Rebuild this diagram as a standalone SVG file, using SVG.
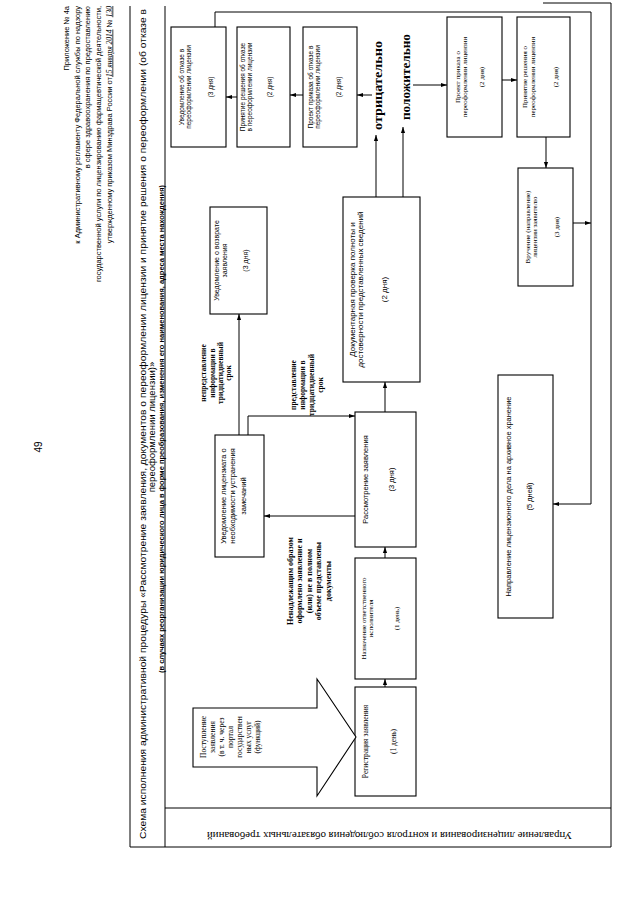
<svg xmlns="http://www.w3.org/2000/svg" width="640" height="905" viewBox="0 0 640 905">
<defs>
<marker id="ah" viewBox="0 0 10 10" refX="10" refY="5" markerWidth="6" markerHeight="6" orient="auto" markerUnits="userSpaceOnUse"><path d="M0,1.5 L10,5 L0,8.5 z" fill="#000"/></marker>
<style>
.box{fill:#fff;stroke:#000;stroke-width:1.1}
.fr{fill:none;stroke:#000;stroke-width:1}
.cn{fill:none;stroke:#000;stroke-width:1;marker-end:url(#ah)}
.s{font-family:"Liberation Sans",Arial,sans-serif;fill:#000}
.r{font-family:"Liberation Serif","Times New Roman",serif;fill:#000}
.b{font-weight:bold}
.m{text-anchor:middle}
</style>
</defs>
<rect width="640" height="905" fill="#fff"/>
<g id="page" transform="matrix(0,-1,1,0,0,905)">
  <g id="header" class="s" font-size="7.5" text-anchor="end">
    <text x="899" y="69">Приложение № 4а</text>
    <text x="899" y="79.5">к Административному регламенту Федеральной службы по надзору</text>
    <text x="899" y="89.5">в сфере здравоохранения по предоставлению</text>
    <text x="899" y="100.5">государственной услуги по лицензированию фармацевтической деятельности,</text>
    <text x="899" y="111.5">утвержденному приказом Минздрава России  от<tspan font-family="Liberation Serif" font-style="italic" text-decoration="underline">15 января 2014</tspan> № <tspan font-family="Liberation Serif" font-style="italic" text-decoration="underline">130</tspan></text>
  </g>
  <text id="page-num" class="s m" x="458" y="41.5" font-size="10">49</text>
  <g id="title" class="s m">
    <text x="481" y="145.5" font-size="9.5" textLength="830" lengthAdjust="spacingAndGlyphs">Схема исполнения административной процедуры «Рассмотрение заявления, документов о переоформлении лицензии и принятие решения о переоформлении (об отказе в</text>
    <text x="478" y="154.5" font-size="9.5">переоформлении лицензии)»</text>
    <text x="476" y="164" font-size="6.5" font-weight="bold" textLength="488" lengthAdjust="spacingAndGlyphs">(в случаях реорганизации юридического лица в форме преобразования, изменения его наименования, адреса места нахождения)</text>
  </g>
  <g id="frame" class="fr">
    <line x1="58" y1="130" x2="899" y2="130"/>
    <line x1="58" y1="165" x2="899" y2="165"/>
    <line x1="58" y1="130" x2="58" y2="611"/>
    <line x1="97" y1="165" x2="97" y2="611"/>
    <line x1="58" y1="611" x2="902" y2="611"/>
    <line x1="902" y1="543" x2="902" y2="611"/>
  </g>

  <g id="n-otkaz-uved">
    <rect class="box" x="758" y="171" width="120" height="55"/>
    <text class="s m" font-size="6.5"><tspan x="818" y="183.5">Уведомление об отказе в</tspan><tspan x="818" y="190.5">переоформлении лицензии</tspan><tspan x="818" y="212.5">(3 дня)</tspan></text>
  </g>
  <g id="n-otkaz-resh">
    <rect class="box" x="758" y="237" width="120" height="53"/>
    <text class="s m" font-size="6.5"><tspan x="818" y="245">Принятие решения об отказе</tspan><tspan x="818" y="251.5">в переоформлении лицензии</tspan><tspan x="818" y="272">(2 дня)</tspan></text>
  </g>
  <g id="n-otkaz-proekt">
    <rect class="box" x="758" y="303" width="120" height="54"/>
    <text class="s m" font-size="6.5"><tspan x="818" y="313">Проект приказа об отказе в</tspan><tspan x="818" y="319.5">переоформлении лицензии</tspan><tspan x="818" y="341">(2 дня)</tspan></text>
  </g>
  <g id="n-proekt">
    <rect class="box" x="768" y="447" width="120" height="55"/>
    <text class="r m" font-size="7"><tspan x="828" y="459.5">Проект приказа о</tspan><tspan x="828" y="466.5">переоформлении лицензии</tspan><tspan x="828" y="483.5">(2 дня)</tspan></text>
  </g>
  <g id="n-resh">
    <rect class="box" x="768" y="517" width="120" height="53"/>
    <text class="r m" font-size="7"><tspan x="828" y="527">Принятие решения о</tspan><tspan x="828" y="535">переоформлении лицензии</tspan><tspan x="828" y="557.5">(2 дня)</tspan></text>
  </g>
  <g id="n-vruch">
    <rect class="box" x="619" y="518" width="118" height="55"/>
    <text class="r m" font-size="7"><tspan x="678" y="529.5">Вручение (направление)</tspan><tspan x="678" y="537">лицензии заявителю</tspan><tspan x="678" y="559">(3 дня)</tspan></text>
  </g>
  <g id="n-vozvrat">
    <rect class="box" x="591" y="210" width="107" height="57"/>
    <text class="s m" font-size="7"><tspan x="644.5" y="219">Уведомление о возврате</tspan><tspan x="644.5" y="226.5">заявления</tspan><tspan x="644.5" y="247.5">(3 дня)</tspan></text>
  </g>
  <g id="n-dok">
    <rect class="box" x="523" y="343" width="185" height="77"/>
    <text class="s m" font-size="8"><tspan x="615.5" y="354.5">Документарная проверка полноты и</tspan><tspan x="615.5" y="362.5">достоверности представленных сведений</tspan><tspan x="615.5" y="387">(2 дня)</tspan></text>
  </g>
  <g id="n-uved-lic">
    <rect class="box" x="348" y="215" width="122" height="49"/>
    <text class="s m" font-size="7.5"><tspan x="409" y="225.5">Уведомление лицензиата о</tspan><tspan x="409" y="234.5">необходимости устранения</tspan><tspan x="409" y="245.5">замечаний</tspan></text>
  </g>
  <g id="n-rassm">
    <rect class="box" x="358" y="355" width="135" height="61"/>
    <text class="s m" font-size="7.5"><tspan x="425.5" y="368">Рассмотрение заявления</tspan><tspan x="425.5" y="394">(3 дня)</tspan></text>
  </g>
  <g id="n-nazn">
    <rect class="box" x="226" y="355" width="121" height="61"/>
    <text class="r m" font-size="7"><tspan x="286.5" y="366">Назначение ответственного</tspan><tspan x="286.5" y="372.5">исполнителя</tspan><tspan x="286.5" y="399">(1 день)</tspan></text>
  </g>
  <g id="n-reg">
    <rect class="box" x="109" y="355" width="109" height="61"/>
    <text class="r m" font-size="7.5"><tspan x="163.5" y="367.5">Регистрация заявления</tspan><tspan x="163.5" y="395.5">(1 день)</tspan></text>
  </g>
  <g id="n-arch">
    <rect class="box" x="287" y="498" width="243" height="55"/>
    <text class="s m" font-size="7.5"><tspan x="408.5" y="510.5">Направление лицензионного дела на архивное хранение</tspan><tspan x="408.5" y="532">(5 дней)</tspan></text>
  </g>
  <g id="n-postup">
    <polygon class="box" points="138,193 197,193 197,317 226,317 168,356 109,317 138,317"/>
    <text class="r m" font-size="7.5"><tspan x="168" y="205.5">Поступление</tspan><tspan x="168" y="214.5">заявления</tspan><tspan x="168" y="223.5">(в т. ч. через</tspan><tspan x="168" y="232.5">портал</tspan><tspan x="168" y="241.5">государствен</tspan><tspan x="168" y="250.5">ных услуг</tspan><tspan x="168" y="259.5">(функций)</tspan></text>
  </g>

  <g id="labels" class="r b m">
    <text font-size="7.5"><tspan x="532" y="205.5">непредставление</tspan><tspan x="532" y="214.5">информации в</tspan><tspan x="532" y="222.5">тридцатидневный</tspan><tspan x="532" y="230.5">срок</tspan></text>
    <text font-size="7.5"><tspan x="520" y="295.5">представление</tspan><tspan x="520" y="304.5">информации в</tspan><tspan x="520" y="313.5">тридцатидневный</tspan><tspan x="520" y="322.5">срок</tspan></text>
    <text font-size="8"><tspan x="324" y="292.5">Ненадлежащим образом</tspan><tspan x="324" y="302">оформлено заявление и</tspan><tspan x="324" y="311.5">(или) не в полном</tspan><tspan x="324" y="321">объеме представлены</tspan><tspan x="324" y="330.5">документы</tspan></text>
    <text x="775" y="382" font-size="13" text-anchor="start" textLength="89" lengthAdjust="spacingAndGlyphs">отрицательно</text>
    <text x="785" y="410" font-size="13" text-anchor="start" textLength="86" lengthAdjust="spacingAndGlyphs">положительно</text>
  </g>

  <g id="connectors">
    <path class="cn" d="M218,385 L226,385"/>
    <path class="cn" d="M347,385 L358,385"/>
    <path class="cn" d="M493,385 L523,385"/>
    <path class="cn" d="M389,355 L389,264"/>
    <path class="cn" d="M470,248 L489,248 L489,355"/>
    <path class="cn" d="M470,239 L591,239"/>
    <path class="cn" d="M708,376 L770,376"/>
    <path class="cn" d="M708,403 L778,403"/>
    <path class="cn" d="M810,372 L810,357"/>
    <path class="cn" d="M820,413 L820,447"/>
    <path class="cn" d="M810,303 L810,290"/>
    <path class="cn" d="M808,237 L808,226"/>
    <path class="cn" d="M825,502 L825,517"/>
    <path class="cn" d="M768,546 L737,546"/>
    <path class="cn" d="M682,573 L682,591"/>
    <path class="cn" d="M878,215 L893,215 L893,591 L401,591 L401,553"/>
  </g>
</g>
<text id="dept" class="r m" transform="translate(389.5,831.5) rotate(180)" font-size="11" textLength="365" lengthAdjust="spacingAndGlyphs">Управление лицензирования и контроля соблюдения обязательных требований</text>
</svg>
